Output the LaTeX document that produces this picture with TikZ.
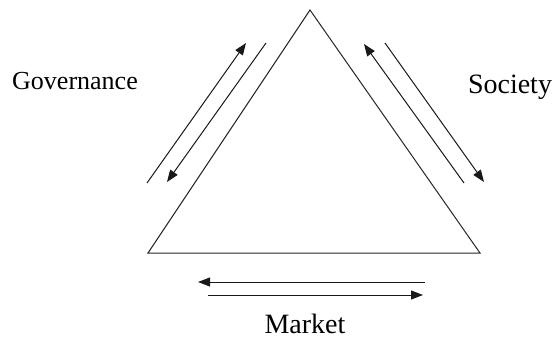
\documentclass[tikz,border=0pt]{standalone}
\usepackage{fontspec}
\setmainfont{Liberation Serif}
\usetikzlibrary{arrows.meta}
\begin{document}
\begin{tikzpicture}[x=1pt,y=-1pt,
  edge/.style={line width=1pt, draw=black!85},
  arr/.style={line width=1pt, draw=black!90, -{Triangle[length=12pt,width=9pt]}},
  lbl/.style={anchor=base, inner sep=0pt, font=\fontsize{28}{32}\selectfont}]
\useasboundingbox (0,0) rectangle (558,338);
\coordinate (apex) at (310,10);
\coordinate (bl) at (148,253);
\coordinate (br) at (480,253);
\draw[edge] (apex) -- (bl) -- (br) -- cycle;
% left pair
\coordinate (l1s) at (147,183); \coordinate (l1e) at (246,43);
\coordinate (l2s) at (266,43); \coordinate (l2e) at (167,182);
\draw[arr] (l1s) -- (l1e);
\draw[arr] (l2s) -- (l2e);
% right pair
\coordinate (r1s) at (464,183); \coordinate (r1e) at (364,44);
\coordinate (r2s) at (385,43); \coordinate (r2e) at (484,182);
\draw[arr] (r1s) -- (r1e);
\draw[arr] (r2s) -- (r2e);
% bottom pair
\coordinate (b1s) at (425,282); \coordinate (b1e) at (198,282);
\coordinate (b2s) at (208,295); \coordinate (b2e) at (423,295);
\draw[arr] (b1s) -- (b1e);
\draw[arr] (b2s) -- (b2e);
\node[lbl, font=\fontsize{26}{30}\selectfont] (gov) at (75,89) {Governance};
\node[lbl] (soc) at (510,93) {Society};
\node[lbl] (mkt) at (305,333) {Market};
\end{tikzpicture}
\end{document}
